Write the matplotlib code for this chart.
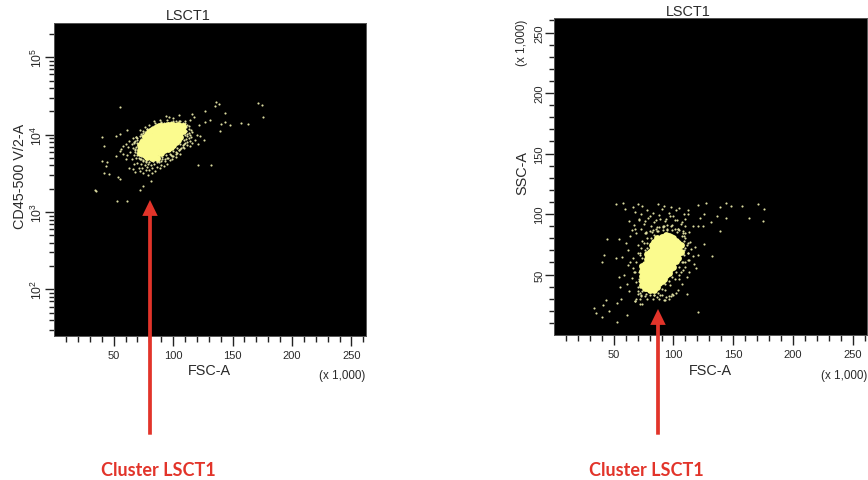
import matplotlib
matplotlib.use("Agg")
import matplotlib.pyplot as plt
from matplotlib.patches import FancyArrowPatch
from matplotlib.ticker import LogLocator, NullFormatter

W, H = 868, 481
plt.rcParams['font.family'] = ['Liberation Sans', 'DejaVu Sans']
plt.rcParams['mathtext.fontset'] = 'custom'
plt.rcParams['mathtext.rm'] = 'Liberation Sans'

TITLE = "LSCT1"
CLUSTER = "Cluster LSCT1"
XTICKS = [50, 100, 150, 200, 250]
XMINOR = [10,20,30,40,60,70,80,90,110,120,130,140,160,170,180,190,210,220,230,240,260]
YTICKS_R = [50, 100, 150, 200, 250]
YMINOR_R = [10,20,30,40,60,70,80,90,110,120,130,140,160,170,180,190,210,220,230,240,260]
YTICKS_L = [100, 1000, 10000, 100000]
YTICK_LABELS_L = [r'$\mathregular{10^{2}}$', r'$\mathregular{10^{3}}$',
                  r'$\mathregular{10^{4}}$', r'$\mathregular{10^{5}}$']

# Left panel: dense core (FSC-A x1000, CD45)
core_l_x = [72,72,72, 76,76,76,76,76, 80,80,80,80,80,80, 84,84,84,84,84,84,84,
            88,88,88,88,88,88, 92,92,92,92,92,92, 96,96,96,96,96,96,
            100,100,100,100,100, 104,104,104,104, 108,108,
            74,74,74, 78,78,78,78,78, 82,82,82,82,82,82, 86,86,86,86,86,86,86,
            90,90,90,90,90,90, 94,94,94,94,94, 98,98,98,98,98, 102,102,102,102, 106,106,106]
core_l_y = [7400,6400,5800, 9300,8600,7400,6400,5500, 10800,10000,8600,7400,6400,5500, 12000,11000,10000,8600,7400,6400,5300,
            12800,11600,10000,8600,7400,6000, 13000,11600,10000,8600,7400,6300, 13400,11600,10000,8600,7400,6500,
            13400,11600,10000,8600,7300, 13400,11600,10000,8500, 12800,11200,
            8000,6900,6000, 9900,8000,6900,5900,5100, 11500,9300,8000,6900,5900,5000, 12400,10800,9300,8000,6900,5900,5000,
            12800,10800,9300,8000,6900,5800, 13000,10800,9300,8000,6900, 13200,10800,9300,8000,7000, 13000,10800,9300,8000, 13000,10800,9200]

# Left panel: scattered events
fringe_l_x = [54.9,40,42.2,34.3,35,52.6,61.3,71.7,75,81,40,44,43.5,41.4,46.4,53.2,54.9,52,55.4,52,55.4,61,58.2,
              136.4,138.4,135.6,171.3,174.4,175.5,127.1,143.7,115.9,117.9,131.4,127.1,140.6,143.7,148,157.5,162.9,139.8,121.5,120.7,132.2,
              120,122.9,125.7,121,114.5,118.7,115.9,113.6,104.6,94,96.2,89.2,83.5,
              56,58,60,60,61,62,63,63,64,65,65,66,66,67,67,67,68,68,69,69,70,70,70,71,71,72,72,73,73,73,74,74,75,75,76,76,77,77,78,78,79,79,
              80,81,82,82,84,85,86,88,89,90,92,93,95,97,99,100,102,103,105,106,107,108,109,110,111,112,112,113,114,115,115,116,110,108,105,100,95,90,85,80,76,72,112,114,100,
              68,70,71,73,75,77,78,83,87,91,95,98,102,106,109,111,113,110,114,
              70,69,68,70,71,73,75,77,80,83,86,88,91,94,97,100,103,106,109,110,111,111,110,106,102,98,94,90,86,82,78,75,72,
              69,67,66,68,72,74,76,79,82,85,87,90,93,96,99,102,105,108,112,113,112,108,104,100,96,92,88,84,80,77,74]
fringe_l_y = [22500,9300,7200,1900,1850,1390,1390,1950,2140,2500,4570,4390,3890,3160,3130,2800,2690,5250,6080,9700,10300,11400,7080,
              26200,25000,23700,25900,24000,16700,20000,19200,18500,16700,15300,14500,13900,14500,13300,14300,13900,11150,13200,4090,4090,
              10000,9500,8600,7590,7080,8600,10700,12800,17800,17600,16900,15600,14900,
              6500,5600,7600,4900,5400,6900,8300,3700,6000,4800,7500,9000,3650,5500,8000,4200,6500,3300,5000,9200,4300,7800,5800,3700,6600,4900,3400,4200,5300,8800,3700,9800,4500,3200,4000,10800,3500,4600,3800,11800,3000,4200,
              3500,4000,3200,3700,4200,3400,3800,4400,3700,4100,3900,4500,4200,4700,4800,5300,5100,5800,6300,5600,6800,7400,6700,7900,8800,9700,7400,10500,8300,11500,9300,7700,12800,14000,15000,14800,15300,14500,14000,13500,12500,11500,13500,15500,16500,
              8300,9000,7400,10200,11000,4800,5200,4600,4500,4800,5000,5500,6000,6500,7500,11000,12000,14800,10000,
              8500,7000,6300,5500,5000,4900,4700,4400,4400,4500,4400,4900,5200,5400,5600,6200,6800,7600,8500,9800,11000,12500,14000,14800,14800,14600,14200,14000,13500,12700,11800,10500,9500,
              9200,7800,6800,5900,6000,5300,5100,5000,4700,4800,4600,4600,4800,5000,5300,5700,6300,6900,8000,9000,10200,11700,12900,13900,14100,14000,13300,12900,12000,10900,9700]

# Right panel: dense core (FSC-A x1000, SSC-A x1000)
core_r_x = [74,74,74,74,74, 78,78,78,78,78,78,78,78, 82,82,82,82,82,82,82,82,82,82,
            86,86,86,86,86,86,86,86,86,86,86, 90,90,90,90,90,90,90,90,90,90,
            94,94,94,94,94,94,94,94,94, 98,98,98,98,98,98,98, 102,102,102,102,102, 106,106,
            76,76,76,76,76,76, 80,80,80,80,80,80,80,80,80, 84,84,84,84,84,84,84,84,84,84,84,
            88,88,88,88,88,88,88,88,88,88, 92,92,92,92,92,92,92,92,92,92,
            96,96,96,96,96,96,96,96,96, 100,100,100,100,100,100,100, 104,104,104,104]
core_r_y = [57,53,49,45,41, 67,63,59,55,51,47,43,39, 74,70,66,62,58,54,50,46,42,38,
            80,76,72,68,64,60,56,52,48,44,40, 81,77,73,69,65,61,57,53,49,45,
            83,79,75,71,67,63,59,55,50, 81,77,73,69,65,61,55, 78,74,70,66,61, 74,69,
            59,55,51,47,43,39, 69,65,61,57,53,49,45,41,37, 77,73,69,65,61,57,53,49,45,41,37,
            79,75,71,67,63,59,55,51,47,43, 81,77,73,69,65,61,57,53,49,46,
            82,78,74,70,66,62,58,54,51, 80,76,72,68,64,60,56, 76,72,68,64]

# Right panel: scattered events
fringe_r_x = [51.6,57.5,59.4,44,54.4,41.8,39.9,51.6,57.2,54.4,55.2,43.2,41.3,33.5,34.9,39.9,46.3,52.4,60.8,52.4,55.8,72,120.8,111.6,132.5,125.5,120.8,
              120.8,126.9,138.9,143.9,147.8,157.6,171,175.7,174.6,162.9,143.9,136.1,138.9,131.4,125.5,122.2,120.8,116.6,125,112.4,
              66,68,70,71,73,74,76,78,80,83,85,87,88,90,92,94,96,98,100,102,103,105,107,109,110,112,
              63,65,67,69,71,73,75,77,79,81,84,86,89,91,93,95,97,99,101,104,106,108,110,113,
              60,62,64,66,68,70,72,74,76,78,80,82,84,86,88,90,93,96,99,
              59,61,63,65,67,69,71,73,75,68,70,72,74,66,64,62,
              110,111,112,113,114,115,116,117,118,119,108,109,110,111,112,113,105,106,107,108,104,102,100,98,96,94,92,
              77,80,83,85,88,91,95,101,105,109,76,72,70,68,
              72,71,71,72,74,77,80,84,87,90,93,96,99,102,105,107,109,110,109,107,103,99,95,91,87,84,81,78,76,74,
              72,73,75,78,82,86,92,98,104,110,112,112,110,108,105,101,97,93,89,83,78,73,70,69,68,69,70]
fringe_r_y = [107.9,108.7,103.8,79.5,79.5,66.5,60.7,63.5,64.3,47.7,39.5,29.2,24.8,22.4,17.9,14.6,20,10.5,16.6,26.2,29.8,25.7,18.8,33.7,65.7,75.3,66.2,
              107.6,109.5,105.7,108.7,106.5,106.5,107.9,104.3,94.1,97.1,97.1,98.2,85.8,93.3,99.6,96.6,90.5,90.5,90.5,100.2,
              106,102,108,96,100,107,94,103,98,101,95,108,99,104,107,96,101,106,98,103,95,105,93,100,96,103,
              94,87,91,84,95,88,92,85,97,90,93,86,96,89,94,87,98,91,95,88,92,86,90,85,
              76,70,82,64,88,74,68,78,84,72,44,36,33,31,30,33,29,32,34,
              50,42,36,47,52,30,45,33,38,28,40,35,26,55,60,58,
              80,74,68,62,77,71,65,59,73,55,84,70,56,48,62,52,46,52,42,60,37,35,33,32,30,31,29,
              84,86,87,88,89,90,91,88,87,82,32,30,34,28,
              58,52,46,40,36,34,33,33,35,38,42,45,48,52,56,60,66,72,78,82,85,87,88,87,86,83,80,76,70,64,
              66,72,76,80,85,89,90,90,88,84,76,68,60,54,50,46,41,37,33,30,30,32,36,44,52,60,68]

YELLOW = '#fbfb8e'
DIM = '#dcdca0'
RED = '#e2342a'
TICK = '#222222'
LABEL = '#2a2a2a'


def fx(px):
    return px / W


def fy(py):
    return 1 - py / H


def make_axes(fig, left, top, right, bottom):
    ax = fig.add_axes([fx(left), fy(bottom), (right - left) / W, (bottom - top) / H])
    ax.set_facecolor('black')
    for s in ax.spines.values():
        s.set_color('#555555')
        s.set_linewidth(0.7)
    ax.set_xlim(0, 262)
    ax.set_xticks(XTICKS)
    ax.set_xticks(XMINOR, minor=True)
    ax.set_xticklabels([str(v) for v in XTICKS], fontsize=8, color=LABEL)
    ax.tick_params(axis='x', which='major', length=7, width=1.0, color=TICK, pad=3)
    ax.tick_params(axis='x', which='minor', length=4.2, width=1.0, color=TICK)
    ax.tick_params(axis='y', which='major', length=6.5, width=1.0, color=TICK, pad=0.5)
    ax.tick_params(axis='y', which='minor', length=3.6, width=1.0, color=TICK)
    return ax


fig = plt.figure(figsize=(W / 100, H / 100), dpi=100, facecolor='white')

# Left panel
ax1 = make_axes(fig, 54.3, 24, 365.7, 337)
ax1.set_yscale('log')
ax1.set_ylim(25, 277000)
ax1.set_yticks(YTICKS_L)
ax1.set_yticklabels(YTICK_LABELS_L, rotation=90, va='center', fontsize=8.8, color=LABEL)
ax1.yaxis.set_minor_locator(LogLocator(base=10, subs=(2, 3, 4, 5, 6, 7, 8, 9), numticks=12))
ax1.yaxis.set_minor_formatter(NullFormatter())
ax1.scatter(fringe_l_x, fringe_l_y, s=2.4, c=DIM, linewidths=0)
ax1.scatter(core_l_x, core_l_y, s=24, c=YELLOW, linewidths=0)

# Right panel
ax2 = make_axes(fig, 554, 19, 867, 336)
ax2.set_ylim(0, 262)
ax2.set_yticks(YTICKS_R)
ax2.set_yticks(YMINOR_R, minor=True)
ax2.set_yticklabels([str(v) for v in YTICKS_R], rotation=90, va='center', fontsize=8, color=LABEL)
ax2.scatter(fringe_r_x, fringe_r_y, s=2.4, c=DIM, linewidths=0)
ax2.scatter(core_r_x, core_r_y, s=24, c=YELLOW, linewidths=0)


def label(px, py, s, size, rot=0, **kw):
    kw.setdefault('color', LABEL)
    fig.text(fx(px), fy(py), s, fontsize=size, rotation=rot, ha='center', va='center', **kw)


label(188, 16, TITLE, 10.4)
label(209, 370.7, "FSC-A", 10.4)
label(342, 376, "(x 1,000)", 8.4)
label(20, 176, "CD45-500 V/2-A", 10.4, rot=90)

label(688, 11.7, TITLE, 10.4)
label(710, 370.7, "FSC-A", 10.4)
label(844, 375.7, "(x 1,000)", 8.4)
label(522, 173, "SSC-A", 10.4, rot=90)
label(522, 43, "(x 1,000)", 8.4, rot=90)

label(158.5, 470.5, CLUSTER, 13, color=RED, family='Lato', fontweight='bold')
label(646.7, 470.5, CLUSTER, 13, color=RED, family='Lato', fontweight='bold')

for x, tip in ((150, 201), (658, 310)):
    fig.add_artist(FancyArrowPatch((fx(x), fy(435.7)), (fx(x), fy(tip)),
                                   transform=fig.transFigure,
                                   arrowstyle='-|>,head_length=7,head_width=3.4',
                                   mutation_scale=1, lw=2.7, color=RED,
                                   shrinkA=0, shrinkB=0, joinstyle='miter', capstyle='butt'))

fig.savefig('out.png', dpi=100, facecolor='white')
